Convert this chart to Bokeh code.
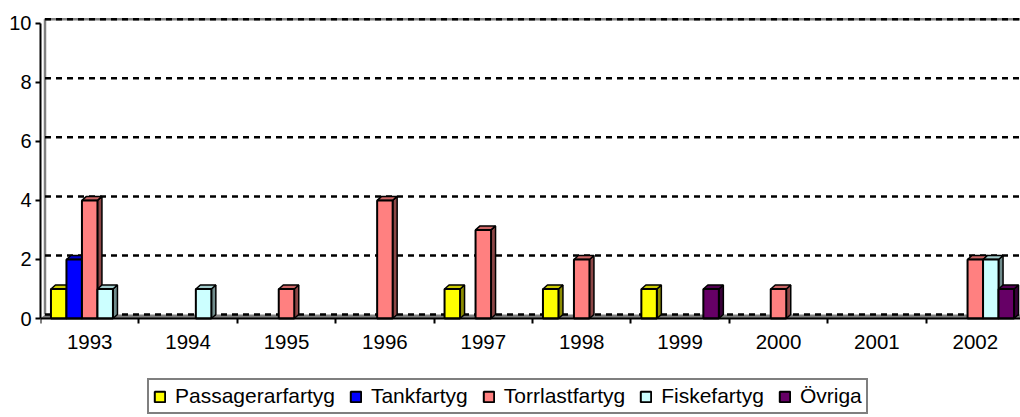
from bokeh.plotting import figure
from bokeh.models import Range1d, FixedTicker, Legend, LegendItem, ColumnDataSource
from bokeh.embed import file_html
from bokeh.resources import INLINE

# ---------------- data ----------------
years = ["1993", "1994", "1995", "1996", "1997", "1998", "1999", "2000", "2001", "2002"]
passagerarfartyg = [1, 0, 0, 0, 1, 1, 1, 0, 0, 0]
tankfartyg = [2, 0, 0, 0, 0, 0, 0, 0, 0, 0]
torrlastfartyg = [4, 0, 1, 4, 3, 2, 0, 1, 0, 2]
fiskefartyg = [1, 1, 0, 0, 0, 0, 0, 0, 0, 2]
ovriga = [0, 0, 0, 0, 0, 0, 1, 0, 0, 1]
series_names = ["Passagerarfartyg", "Tankfartyg", "Torrlastfartyg", "Fiskefartyg", "Övriga"]
series_values = [passagerarfartyg, tankfartyg, torrlastfartyg, fiskefartyg, ovriga]
series_colors = ["#FFFF00", "#0000FF", "#FF8080", "#CCFFFF", "#660066"]
y_ticks = [0, 2, 4, 6, 8, 10]

# ---------------- layout constants ----------------
W, H = 1020, 417
BORDER_LEFT, BORDER_TOP = 40, 14
ZERO_PX = 318            # page y of value 0
TOP_TICK_PX = 22.7       # page y of value 10
CAT_PX = 98.4            # pixels per category
UNIT_PX = (ZERO_PX - TOP_TICK_PX) / 10.0
FRAME_W = W - BORDER_LEFT
XMAX = FRAME_W / CAT_PX
YMIN = -(H - ZERO_PX) / UNIT_PX
YMAX = (ZERO_PX - BORDER_TOP) / UNIT_PX
DX = 4.5 / CAT_PX        # 3D depth offset (x)
DY = 4.0 / UNIT_PX       # 3D depth offset (y)
GAP = 10.45 / CAT_PX
BW = 15.5 / CAT_PX
FONT = "Liberation Sans"


def shade(hexcol, f):
    h = hexcol.lstrip("#")
    r, g, b = int(h[0:2], 16), int(h[2:4], 16), int(h[4:6], 16)
    return "#%02x%02x%02x" % (int(r * f), int(g * f), int(b * f))


p = figure(width=W, height=H, output_backend="svg", toolbar_location=None,
           x_range=Range1d(0, XMAX), y_range=Range1d(YMIN, YMAX),
           min_border_left=BORDER_LEFT, min_border_right=0, min_border_top=BORDER_TOP,
           min_border_bottom=0, title=None)
p.outline_line_color = None
p.xgrid.visible = False
p.ygrid.visible = False
p.background_fill_color = "white"
p.border_fill_color = "white"

# floor (gray band)
p.patch([0, XMAX, XMAX + DX, DX], [0, 0, DY, DY], fill_color="#808080", line_color=None)
# back wall border
p.line([DX, DX, XMAX + DX], [DY, y_ticks[-1] + DY, y_ticks[-1] + DY],
       line_color="#808080", line_width=2.5)
# dashed gridlines on the wall
p.segment(x0=[DX] * len(y_ticks), y0=[t + DY for t in y_ticks],
          x1=[XMAX + DX] * len(y_ticks), y1=[t + DY for t in y_ticks],
          line_color="black", line_width=2.5, line_dash="6 5")

# bars
legend_items = []
for s, (name, vals, col) in enumerate(zip(series_names, series_values, series_colors)):
    lefts, rights, tops = [], [], []
    for c, v in enumerate(vals):
        if v > 0:
            l = c + GAP + s * BW
            lefts.append(l)
            rights.append(l + BW)
            tops.append(v)
    side_xs = [[r, r + DX, r + DX, r] for r in rights]
    side_ys = [[0, DY, t + DY, t] for t in tops]
    top_xs = [[l, r, r + DX, l + DX] for l, r in zip(lefts, rights)]
    top_ys = [[t, t, t + DY, t + DY] for t in tops]
    p.patches(side_xs, side_ys, fill_color=shade(col, 0.55), line_color="black", line_width=1.5)
    p.patches(top_xs, top_ys, fill_color=shade(col, 0.8), line_color="black", line_width=1.5)
    src = ColumnDataSource(dict(left=lefts, right=rights, top=tops, bottom=[0] * len(tops)))
    fr = p.quad(left="left", right="right", top="top", bottom="bottom", source=src,
                fill_color=col, line_color="black", line_width=2)
    legend_items.append(LegendItem(label=name, renderers=[fr]))

# axes
yax = p.yaxis[0]
yax.ticker = FixedTicker(ticks=y_ticks)
yax.bounds = (y_ticks[0], y_ticks[-1])
yax.axis_line_color = "black"
yax.axis_line_width = 2
yax.major_tick_line_color = "black"
yax.major_tick_line_width = 2
yax.major_tick_out = 5
yax.major_tick_in = 0
yax.minor_tick_line_color = None
yax.major_label_standoff = 4
yax.major_label_text_font = FONT
yax.major_label_text_font_size = "20px"
yax.major_label_text_color = "black"

xax = p.xaxis[0]
centers = [i + 0.5 for i in range(len(years))]
xax.fixed_location = 0
xax.ticker = FixedTicker(ticks=centers, minor_ticks=list(range(len(years) + 1)))
xax.major_label_overrides = {c: y for c, y in zip(centers, years)}
xax.axis_line_color = "black"
xax.axis_line_width = 2
xax.major_tick_out = 0
xax.major_tick_in = 0
xax.major_tick_line_color = None
xax.minor_tick_out = 5
xax.minor_tick_in = 0
xax.minor_tick_line_color = "black"
xax.minor_tick_line_width = 2
xax.major_label_standoff = 11
xax.major_label_text_font = FONT
xax.major_label_text_font_size = "20.5px"
xax.major_label_text_color = "black"

legend = Legend(items=legend_items, orientation="horizontal", location=(107, 3),
                glyph_width=13, glyph_height=13, label_standoff=9, spacing=14,
                padding=4, margin=0, border_line_color="black", border_line_width=2,
                background_fill_color="white", background_fill_alpha=1.0,
                label_text_font=FONT, label_text_font_size="21px", label_text_color="black")
p.add_layout(legend, "center")

open("out.html", "w").write(file_html(p, INLINE))
